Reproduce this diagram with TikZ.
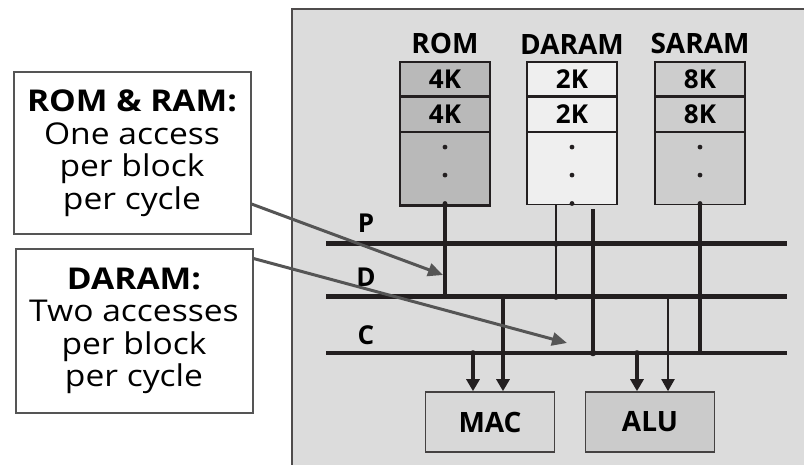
\documentclass[tikz,border=0pt]{standalone}
\usepackage{fontspec}
\setmainfont{Open Sans}
\newfontfamily\notefont{Open Sans}[FakeStretch=1.12]
\usepackage{xcolor}
\usepackage{tikz}
\usetikzlibrary{arrows.meta, positioning}
\definecolor{panelgray}{RGB}{220,220,220}
\definecolor{linedark}{RGB}{35,31,32}
\definecolor{notegray}{RGB}{85,85,85}
\definecolor{romgray}{RGB}{185,185,185}
\definecolor{daramgray}{RGB}{239,239,239}
\definecolor{saramgray}{RGB}{205,205,205}
\definecolor{macgray}{RGB}{216,216,216}
\definecolor{alugray}{RGB}{203,203,203}
\tikzset{
  memcell/.style={rectangle, draw=linedark, line width=1.4pt,
    minimum width=90pt, minimum height=34pt, inner sep=0pt,
    font=\fontsize{26}{28}\selectfont\bfseries},
  memrest/.style={memcell, minimum height=72pt},
  memlabel/.style={inner sep=0pt, font=\fontsize{28}{30}\selectfont\bfseries},
  unitbox/.style={rectangle, draw=linedark!85, line width=1.6pt,
    minimum width=129pt, minimum height=60pt, inner sep=0pt,
    font=\fontsize{28}{30}\selectfont\bfseries},
  notebox/.style={rectangle, draw=notegray, fill=white, line width=2pt,
    minimum width=237pt, minimum height=162pt, inner sep=0pt, align=center,
    font=\notefont\fontsize{30}{32.5}\selectfont},
  bus/.style={line width=5pt, color=linedark},
  tap/.style={line width=3.5pt, color=linedark},
  thintap/.style={line width=2pt, color=linedark},
  feed/.style={-{Triangle[length=12pt, width=13pt]}, line width=3.5pt, color=linedark},
  thinfeed/.style={-{Triangle[length=12pt, width=13pt]}, line width=2pt, color=linedark},
  hint/.style={-{Triangle[length=15pt, width=13pt]}, line width=3pt, color=notegray},
  busname/.style={inner sep=0pt, font=\fontsize{26}{28}\selectfont\bfseries}
}

\begin{document}
\begin{tikzpicture}[x=1pt, y=-1pt]
  \useasboundingbox (0,0) rectangle (804,465);

  % Chip panel (open to the right and bottom)
  \fill[panelgray] (292,9) rectangle (804,465);
  \draw[linedark!80, line width=1.5pt] (804,9) -- (292,9) -- (292,465);

  % Memory blocks
  \node[memcell, fill=romgray] (rom1) at (445,79) {4K};
  \node[memcell, fill=romgray, below=0pt of rom1] (rom2) {4K};
  \node[memrest, fill=romgray, below=0pt of rom2] (rom3) {};
  \node[memlabel, above=7pt of rom1] (romlbl) {ROM};

  \node[memcell, fill=daramgray] (daram1) at (572,79) {2K};
  \node[memcell, fill=daramgray, below=0pt of daram1] (daram2) {2K};
  \node[memrest, fill=daramgray, below=0pt of daram2] (daram3) {};
  \node[memlabel, above=7pt of daram1] (daramlbl) {DARAM};

  \node[memcell, fill=saramgray] (saram1) at (700,79) {8K};
  \node[memcell, fill=saramgray, below=0pt of saram1] (saram2) {8K};
  \node[memrest, fill=saramgray, below=0pt of saram2] (saram3) {};
  \node[memlabel, above=7pt of saram1] (saramlbl) {SARAM};
  \draw[linedark, line width=3.5pt] (rom3.south west) -- (rom3.south east);
  \draw[linedark, line width=3pt] (rom1.south west) -- ++(18,0);
  \draw[linedark, line width=3pt] (rom1.south east) -- ++(-12,0);

  % Continuation dots
  \foreach \blk in {rom3, daram3, saram3} {
    \fill[linedark] ([yshift=-15pt]\blk.north) circle (2.4pt);
    \fill[linedark] ([yshift=-43pt]\blk.north) circle (2.4pt);
    \fill[linedark] ([yshift=2pt]\blk.south) circle (2.4pt);
  }

  % Buses
  \coordinate (pL) at (326,244); \coordinate (pR) at (787,244);
  \coordinate (dL) at (326,297); \coordinate (dR) at (787,297);
  \coordinate (cL) at (326,353); \coordinate (cR) at (787,353);
  \draw[bus] (pL) -- (pR);
  \draw[bus] (dL) -- (dR);
  \draw[bus, line width=3.6pt] (cL) -- (cR);
  \node[busname] (pname) at (366,223) {P};
  \node[busname] (dname) at (366,277) {D};
  \node[busname] (cname) at (366,335) {C};

  % Memory taps onto the buses
  \draw[tap] (rom3.south) -- (rom3.south |- dL);
  \draw[thintap] ([xshift=-16pt]daram3.south) -- ([xshift=-16pt]daram3.south |- dL);
  \draw[tap] ([xshift=21pt, yshift=-4pt]daram3.south) -- ([xshift=21pt]daram3.south |- cL);
  \draw[tap] (saram3.south) -- (saram3.south |- cL);
  \fill[linedark] ([xshift=-16pt]daram3.south |- pL) circle (2.8pt);
  \fill[linedark] ([xshift=-16pt]daram3.south |- dL) circle (2.8pt);
  \fill[linedark] ([xshift=21pt]daram3.south |- cL) circle (3.3pt);

  % Execution units
  \node[unitbox, fill=macgray] (mac) at (490,422) {MAC};
  \node[unitbox, fill=alugray] (alu) at (650,422) {ALU};

  \draw[feed] ([xshift=-17pt]mac.north |- cL) -- ([xshift=-17pt]mac.north);
  \draw[feed] ([xshift=13pt]mac.north |- dL) -- ([xshift=13pt]mac.north);
  \draw[feed] ([xshift=-13pt]alu.north |- cL) -- ([xshift=-13pt]alu.north);
  \draw[thinfeed] ([xshift=18pt]alu.north |- dL) -- ([xshift=18pt]alu.north);
  \fill[linedark] ([xshift=-17pt]mac.north |- cL) circle (2.8pt);
  \fill[linedark] ([xshift=-13pt]alu.north |- cL) circle (2.8pt);

  % Notes on the left
  \node[notebox] (romnote) at (132,153) {\textbf{ROM \& RAM:}\\One access\\per block\\per cycle};
  \node[notebox, minimum height=163pt] (daramnote) at (134,331) {\textbf{DARAM:}\\Two accesses\\per block\\per cycle};

  \coordinate (romhint) at (443,275);
  \coordinate (daramhint) at (567,343);
  \draw[hint] ([yshift=31pt]romnote.south east) -- (romhint);
  \draw[hint] ([yshift=-10pt]daramnote.north east) -- (daramhint);
\end{tikzpicture}
\end{document}
